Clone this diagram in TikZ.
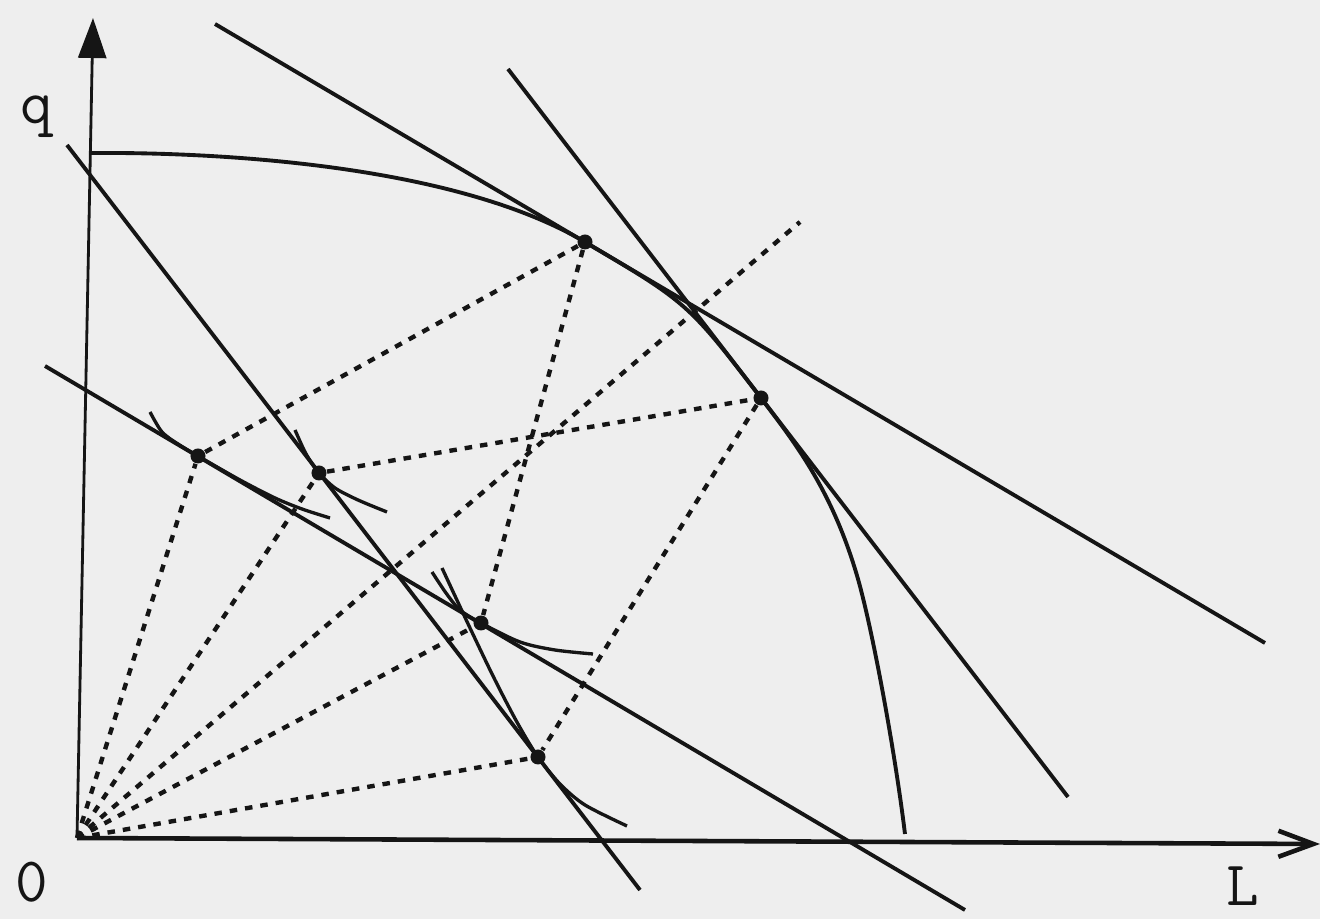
\documentclass[tikz,border=0pt]{standalone}
\usepackage{tikz}
\usetikzlibrary{arrows.meta}
\definecolor{cInk}{RGB}{21,21,21}
\definecolor{cPaper}{RGB}{238,238,238}

\begin{document}
\begin{tikzpicture}[x=0.01cm,y=-0.01cm,
   tang/.style={draw=cInk,line width=1.1pt},
   isoq/.style={draw=cInk,line width=0.95pt},
   axline/.style={draw=cInk,line width=1.3pt},
   rayline/.style={draw=cInk,line width=1.25pt,dash pattern=on 0.075cm off 0.08cm},
   ptdot/.style={circle,fill=cInk,inner sep=0pt,minimum size=0.15cm},
   lbl/.style={font=\ttfamily\fontsize{18}{18}\selectfont,text=cInk,inner sep=0pt}]
  \path[use as bounding box,fill=cPaper] (0,0) rectangle (1320,919);
  % origin and axes
  \coordinate (O) at (77,838);
  \coordinate (qend) at (93,18);
  \coordinate (Lend) at (1320,844);
  \draw[axline,line width=0.8pt,-{Triangle[length=0.4cm,width=0.28cm]}] (O) -- (qend);
  \draw[axline,-{Straight Barb[length=0.35cm,width=0.26cm]}] (O) -- (Lend);
  \node[lbl] (qlab) at (37,117) {q};
  \node[lbl] (zero) at (32,882) {0};
  \node[lbl] (Llab) at (1243,886) {L};
  % points of tangency
  \node[ptdot] (A) at (585,242) {};
  \node[ptdot] (B) at (761,398) {};
  \node[ptdot] (C) at (198,456) {};
  \node[ptdot] (D) at (319,473) {};
  \node[ptdot] (E) at (481,623) {};
  \node[ptdot] (F) at (538,757) {};
  \coordinate (R) at (800,222);
  % frontier
  \coordinate (f0) at (91,153);
  \coordinate (f1) at (905,834);
  \draw[tang] (f0) .. controls (220,152) and (455,165) .. (A.center)
     .. controls (688,303) .. (B.center)
     .. controls (796,444) and (833,492) .. (858,579)
     .. controls (873,632) and (895,752) .. (f1);
  % price lines
  \coordinate (t1a) at (215,24);  \coordinate (t1b) at (1265,643);
  \coordinate (t2a) at (508,69);  \coordinate (t2b) at (1068,797);
  \coordinate (t3a) at (67,145);  \coordinate (t3b) at (640,890);
  \coordinate (t4a) at (45,366);  \coordinate (t4b) at (965,910);
  \draw[tang] (t1a) -- (t1b);
  \draw[tang] (t2a) -- (t2b);
  \draw[tang] (t3a) -- (t3b);
  \draw[tang] (t4a) -- (t4b);
  % small curves at the inner points
  \draw[isoq] plot[smooth] coordinates {(150,412) (162,432) (178,444) (198,456) (240,480) (275,498) (302,509) (330,518)};
  \draw[isoq] plot[smooth] coordinates {(295,430) (304,450) (311,462) (319,473) (335,488) (358,500) (387,512)};
  \draw[isoq] plot[smooth] coordinates {(432,572) (446,593) (460,610) (481,623) (520,642) (555,650) (593,654)};
  \draw[isoq] plot[smooth] coordinates {(442,568) (470,628) (495,680) (518,724) (538,757) (560,784) (585,805) (627,826)};
  % rays and dotted links
  \draw[rayline] (O) -- (C);
  \draw[rayline] (O) -- (D);
  \draw[rayline] (O) -- (R);
  \draw[rayline] (O) -- (E);
  \draw[rayline] (O) -- (F);
  \draw[rayline] (C) -- (A);
  \draw[rayline] (D) -- (B);
  \draw[rayline] (A) -- (E);
  \draw[rayline] (B) -- (F);
\end{tikzpicture}
\end{document}
